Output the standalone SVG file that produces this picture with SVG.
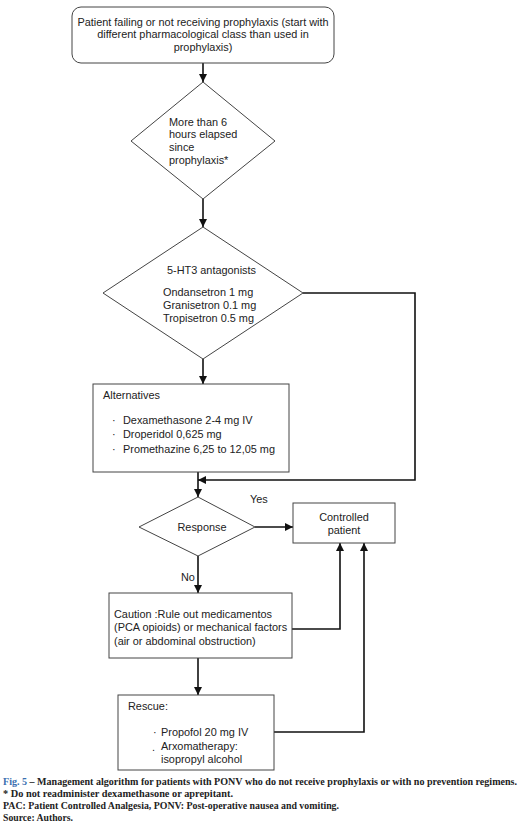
<svg xmlns="http://www.w3.org/2000/svg" width="521" height="833" viewBox="0 0 521 833">
<style>
.box{fill:#fff;stroke:#444;stroke-width:1}
.t{font-family:"Liberation Sans",Arial,sans-serif;font-size:10.9px;fill:#222}
.c{text-anchor:middle}
.ln{fill:none;stroke:#111;stroke-width:1.6}
.cap{font-family:"Liberation Serif","DejaVu Serif",serif;font-size:9.4px;font-weight:bold;fill:#222}
</style>
<defs>
<marker id="ah" viewBox="0 0 10 10" refX="10" refY="5" markerWidth="8" markerHeight="8" markerUnits="userSpaceOnUse" orient="auto">
<path d="M0,0 L10,5 L0,10 z" fill="#111"/>
</marker>
</defs>
<rect width="521" height="833" fill="#fff"/>
<g id="connectors">
<line class="ln" x1="203" y1="63" x2="203" y2="82" marker-end="url(#ah)"/>
<line class="ln" x1="203" y1="199" x2="203" y2="227" marker-end="url(#ah)"/>
<line class="ln" x1="203" y1="359" x2="203" y2="384" marker-end="url(#ah)"/>
<polyline class="ln" points="303,293 415,293 415,480 198,480" marker-end="url(#ah)"/>
<line class="ln" x1="198" y1="472" x2="198" y2="497" marker-end="url(#ah)"/>
<line class="ln" x1="255" y1="527" x2="293" y2="527" marker-end="url(#ah)"/>
<line class="ln" x1="198" y1="556" x2="198" y2="593" marker-end="url(#ah)"/>
<polyline class="ln" points="292,629 340,629 340,543" marker-end="url(#ah)"/>
<line class="ln" x1="198" y1="658" x2="198" y2="695" marker-end="url(#ah)"/>
<polyline class="ln" points="274,732 364,732 364,543" marker-end="url(#ah)"/>
<text class="t" x="250" y="503">Yes</text>
<text class="t" x="181" y="581">No</text>
</g>
<g id="start">
<rect class="box" x="72" y="7" width="262" height="56" rx="9"/>
<text class="t c" x="203" y="26">Patient failing or not receiving prophylaxis (start with</text>
<text class="t c" x="203" y="38">different pharmacological class than used in</text>
<text class="t c" x="203" y="51">prophylaxis)</text>
</g>
<g id="hours">
<polygon class="box" points="203,82 275,141 203,199 131,141"/>
<text class="t" x="169" y="126">More than 6</text>
<text class="t" x="169" y="138">hours elapsed</text>
<text class="t" x="169" y="151">since</text>
<text class="t" x="169" y="164">prophylaxis*</text>
</g>
<g id="ht3">
<polygon class="box" points="203,227 303,293 203,359 103,293"/>
<text class="t" x="167" y="274">5-HT3 antagonists</text>
<text class="t" x="163" y="296">Ondansetron 1 mg</text>
<text class="t" x="163" y="309">Granisetron 0.1 mg</text>
<text class="t" x="163" y="322">Tropisetron 0.5 mg</text>
</g>
<g id="alternatives">
<rect class="box" x="93" y="384" width="196" height="88"/>
<text class="t" x="103" y="399">Alternatives</text>
<text class="t" x="112" y="424">·</text>
<text class="t" x="123" y="424">Dexamethasone 2-4 mg IV</text>
<text class="t" x="112" y="438">·</text>
<text class="t" x="123" y="438">Droperidol 0,625 mg</text>
<text class="t" x="112" y="453">·</text>
<text class="t" x="123" y="453">Promethazine 6,25 to 12,05 mg</text>
</g>
<g id="response">
<polygon class="box" points="198,497 255,527 198,556 139,527"/>
<text class="t c" x="202" y="531">Response</text>
</g>
<g id="controlled">
<rect class="box" x="293" y="503" width="102" height="40"/>
<text class="t c" x="344" y="521">Controlled</text>
<text class="t c" x="344" y="534">patient</text>
</g>
<g id="caution">
<rect class="box" x="109" y="593" width="183" height="65"/>
<text class="t" x="114" y="618">Caution :Rule out medicamentos</text>
<text class="t" x="114" y="631">(PCA opioids) or mechanical factors</text>
<text class="t" x="114" y="645">(air or abdominal obstruction)</text>
</g>
<g id="rescue">
<rect class="box" x="118" y="695" width="156" height="75"/>
<text class="t" x="128" y="710">Rescue:</text>
<text class="t" x="153" y="736">·</text>
<text class="t" x="161" y="736">Propofol 20 mg IV</text>
<text class="t" x="152" y="751">.</text>
<text class="t" x="161" y="750">Arxomatherapy:</text>
<text class="t" x="161" y="763">isopropyl alcohol</text>
</g>
<g id="caption">
<text class="cap" x="3" y="785" textLength="514" lengthAdjust="spacingAndGlyphs"><tspan fill="#3a6fb0">Fig. 5</tspan> – Management algorithm for patients with PONV who do not receive prophylaxis or with no prevention regimens.</text>
<text class="cap" x="3" y="797" textLength="230" lengthAdjust="spacingAndGlyphs">* Do not readminister dexamethasone or aprepitant.</text>
<text class="cap" x="3" y="809" textLength="336" lengthAdjust="spacingAndGlyphs">PAC: Patient Controlled Analgesia, PONV: Post-operative nausea and vomiting.</text>
<text class="cap" x="3" y="821" textLength="70" lengthAdjust="spacingAndGlyphs">Source: Authors.</text>
</g>
</svg>
